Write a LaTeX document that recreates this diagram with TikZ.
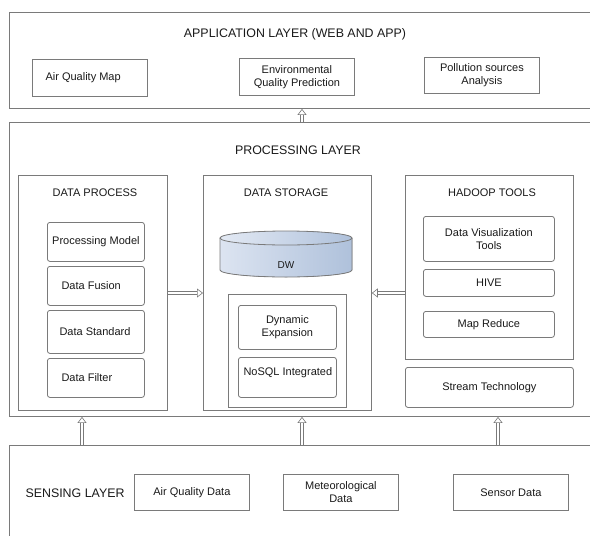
\documentclass[tikz,border=0pt]{standalone}
\usepackage{fontspec}
\setmainfont{Liberation Sans}
\usetikzlibrary{arrows.meta,calc}
\definecolor{ln}{HTML}{7A7A7A}
\definecolor{cylL}{HTML}{DCE4F1}
\definecolor{cylR}{HTML}{AFC1DB}
\definecolor{txt}{HTML}{1A1A1A}
\newcommand\boxat[7]{\node[#1, minimum width={#5-#3}, minimum height={#6-#4}] (#2) at (#3,#4) {#7};}
\begin{document}
\begin{tikzpicture}[x=1pt,y=-1pt,
 every node/.style={font=\fontsize{11}{13}\selectfont, text=txt},
 layer/.style={draw=ln, line width=0.9pt, rectangle, anchor=north west, inner sep=0pt},
 bx/.style={draw=ln, line width=0.8pt, rectangle, anchor=north west, inner sep=0pt, align=center},
 rbx/.style={bx, rounded corners=2.5pt},
 ttl/.style={font=\fontsize{12.4}{15}\selectfont},
 sub/.style={font=\fontsize{11}{13}\selectfont},
 darr/.style={draw=ln, line width=0.6pt, double=white, double distance=2.2pt, -{Triangle[open,length=6pt,width=9pt]}}
]
\useasboundingbox (0,0) rectangle (590,536);
\fill[white] (0,0) rectangle (590,536);
\clip (0,0) rectangle (590,536);

% application layer
\boxat{layer}{app}{9}{12}{600}{108}{}
\node[ttl] (apptitle) at (295,34) {APPLICATION LAYER (WEB AND APP)};
\boxat{bx}{aqm}{32}{59}{147}{96}{}
\node[anchor=west] (aqmt) at ([xshift=10pt]aqm.west) {Air Quality Map};
\boxat{bx}{env}{239}{58}{354}{95}{Environmental\\Quality Prediction}
\boxat{bx}{pol}{424}{57}{539}{93}{Pollution sources\\Analysis}

% processing layer
\boxat{layer}{proc}{9}{122}{600}{416}{}
\node[ttl] (proctitle) at (298,150) {PROCESSING LAYER};

\boxat{bx}{dp}{18}{175}{167}{410}{}
\node[sub] (dptitle) at (95,193) {DATA PROCESS};
\boxat{rbx}{pm}{47}{222}{144}{261}{Processing Model}
\boxat{rbx}{df}{47}{266}{144}{305}{}
\node[anchor=west] (dft) at ([xshift=11pt]df.west) {Data Fusion};
\boxat{rbx}{ds}{47}{310}{144}{353}{}
\node[anchor=west] (dst) at ([xshift=9pt]ds.west) {Data Standard};
\boxat{rbx}{dfl}{47}{358}{144}{397}{}
\node[anchor=west] (dflt) at ([xshift=11pt]dfl.west) {Data Filter};

\boxat{bx}{st}{203}{175}{371}{410}{}
\node[sub] (sttitle) at (286,193) {DATA STORAGE};
\fill[left color=cylL, right color=cylR] (220,238) -- (220,270)
  arc[start angle=180, end angle=0, x radius=66, y radius=7] -- (352,238)
  arc[start angle=0, end angle=-180, x radius=66, y radius=7] -- cycle;
\draw[ln, line width=0.8pt] (220,238) -- (220,270)
  arc[start angle=180, end angle=0, x radius=66, y radius=7] -- (352,238);
\draw[ln, line width=0.8pt, left color=cylL!80!white, right color=cylR] (286,238) ellipse[x radius=66, y radius=7];
\node (dw) at (286,265) {\fontsize{10}{12}\selectfont DW};
\boxat{bx}{inner}{228}{294}{346}{407}{}
\boxat{rbx}{dyn}{238}{305}{336}{349}{Dynamic\\Expansion}
\boxat{rbx}{nosql}{238}{357}{336}{397}{}
\node[anchor=west] (nosqlt) at (240,373) {NoSQL Integrated};

\boxat{bx}{had}{405}{175}{573}{359}{}
\node[sub] (hadtitle) at (492,193) {HADOOP TOOLS};
\boxat{rbx}{dvt}{423}{216}{554}{261}{Data Visualization\\Tools}
\boxat{rbx}{hive}{423}{269}{554}{296}{HIVE}
\boxat{rbx}{mr}{423}{311}{554}{337}{Map Reduce}
\boxat{rbx}{stream}{405}{367}{573}{407}{Stream Technology}

% sensing layer
\boxat{layer}{sens}{9}{445}{600}{560}{}
\node[anchor=west, ttl] (senstitle) at (22,493) {SENSING LAYER};
\boxat{bx}{aqd}{134}{474}{249}{510}{Air Quality Data}
\boxat{bx}{met}{283}{474}{398}{510}{Meteorological\\Data}
\boxat{bx}{sen}{453}{474}{568}{510}{Sensor Data}

% connectors
\coordinate (x1) at (82,0);
\coordinate (x2) at (302,0);
\coordinate (x3) at (498,0);
\coordinate (ymid) at (0,293);
\draw[darr] (proc.north -| x2) -- (app.south -| x2);
\draw[darr] (sens.north -| x1) -- (proc.south -| x1);
\draw[darr] (sens.north -| x2) -- (proc.south -| x2);
\draw[darr] (sens.north -| x3) -- (proc.south -| x3);
\draw[darr] (dp.east |- ymid) -- (st.west |- ymid);
\draw[darr] (had.west |- ymid) -- (st.east |- ymid);
\end{tikzpicture}
\end{document}
